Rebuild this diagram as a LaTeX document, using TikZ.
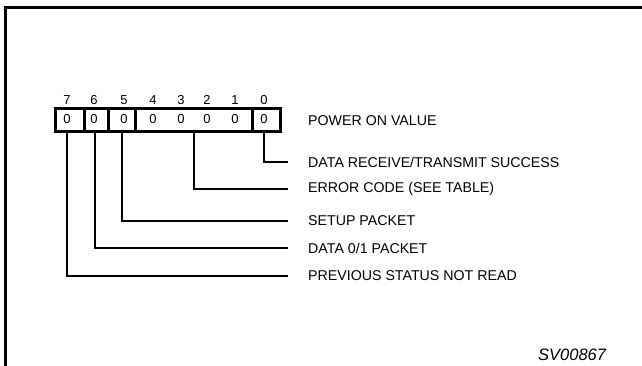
\documentclass[tikz,border=0pt]{standalone}
\usepackage{fontspec}
\setmainfont{Liberation Sans}
\begin{document}
\begin{tikzpicture}[x=1pt,y=-1pt,
  cell/.style={draw, line width=2.6pt, minimum height=23pt, inner sep=0pt, anchor=north west},
  digit/.style={font=\fontsize{13}{13}\selectfont, inner sep=0pt},
  lab/.style={font=\fontsize{14.2}{15}\selectfont, anchor=west, inner sep=0pt},
  conn/.style={line width=1.7pt}]
\fill[white] (0,0) rectangle (642,366);
\useasboundingbox (0,0) rectangle (642,366);
% frame
\draw[line width=3pt] (5.5,367) |- (643,7.5);
% register cells
\node[cell, minimum width=29pt] (b7) at (54,107) {};
\node[cell, minimum width=24pt] (b6) at (83,107) {};
\node[cell, minimum width=27pt] (b5) at (107,107) {};
\node[cell, minimum width=117pt] (b41) at (134,107) {};
\node[cell, minimum width=28pt] (b0) at (251,107) {};
% bit numbers
\foreach \n/\x in {7/67,6/94,5/124,4/153,3/181,2/207,1/235,0/264}{
  \node[digit] (n\n) at (\x,100) {\n};
  \node[digit] (z\n) at (\x,119) {0};
}
% labels
\node[lab] (lpow) at (308,121) {POWER ON VALUE};
\node[lab] (l0) at (308,162) {DATA RECEIVE/TRANSMIT SUCCESS};
\node[lab] (l41) at (308,189) {ERROR CODE (SEE TABLE)};
\node[lab] (l5) at (308,221) {SETUP PACKET};
\node[lab] (l6) at (308,248) {DATA 0/1 PACKET};
\node[lab] (l7) at (308,276) {PREVIOUS STATUS NOT READ};
% connectors
\draw[conn] ([xshift=-2pt]b0.south) |- ([xshift=-20pt]l0.west);
\draw[conn] ([xshift=0.5pt]b41.south) |- ([xshift=-20pt]l41.west);
\draw[conn] ([xshift=0.5pt]b5.south) |- ([xshift=-20pt]l5.west);
\draw[conn] ([xshift=-1pt]b6.south) |- ([xshift=-20pt]l6.west);
\draw[conn] ([xshift=-2.5pt]b7.south) |- ([xshift=-20pt]l7.west);
% figure code
\node[font=\fontsize{16.5}{17}\selectfont\itshape, anchor=west, inner sep=0pt] (code) at (538,355) {SV00867};
\end{tikzpicture}
\end{document}
